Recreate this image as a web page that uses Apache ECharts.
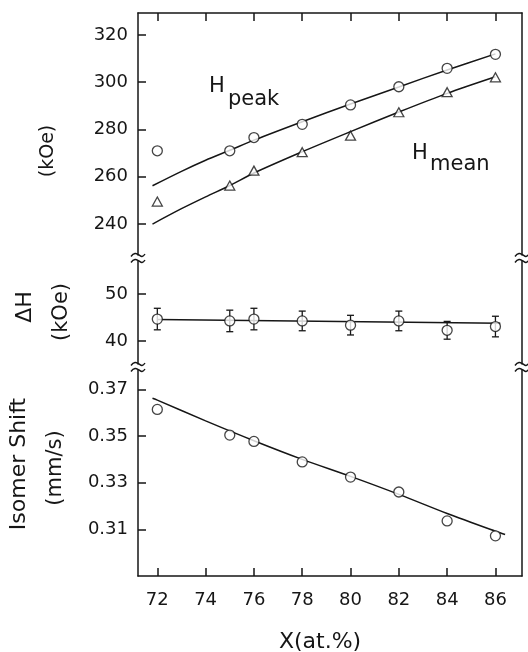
<!DOCTYPE html>
<html>
<head>
<meta charset="utf-8">
<script src="https://cdn.jsdelivr.net/npm/echarts@6/dist/echarts.min.js"></script>
<style>
html,body{margin:0;padding:0;background:#fff;}
#chart{width:528px;height:652px;}
</style>
</head>
<body>
<div id="chart"></div>
<script>
// ---- data ----
const xTicks = [72, 74, 76, 78, 80, 82, 84, 86];
const xData = [72, 75, 76, 78, 80, 82, 84, 86];
const hPeak = [271, 271, 276.6, 282.2, 290.4, 298.1, 305.9, 311.8];
const hMean = [249.5, 256.3, 262.6, 270.4, 277.4, 287.3, 295.8, 302.1];
const hFitX = [71.8, 73, 74, 75, 76, 78, 80, 82, 84, 86];
const hPeakFit = [256.2, 262.3, 267, 271.2, 275.5, 283.3, 290.8, 298.0, 305.2, 312.0];
const hMeanFit = [240, 246.5, 251.5, 256.3, 261.6, 270.6, 279.1, 287.4, 295.3, 302.3];
const dH = [44.7, 44.3, 44.7, 44.3, 43.4, 44.3, 42.3, 43.1];
const dHErr = [2.3, 2.3, 2.3, 2.1, 2.1, 2.1, 1.9, 2.2];
const dHFitX = [72, 86.2];
const dHFit = [44.6, 43.8];
const isoShift = [0.3614, 0.3504, 0.3477, 0.3389, 0.3324, 0.326, 0.3136, 0.3072];
const isFitX = [71.8, 72, 74, 76, 78, 80, 82, 84, 86, 86.4];
const isFit = [0.3662, 0.3654, 0.3565, 0.3480, 0.3400, 0.3327, 0.3250, 0.3168, 0.3092, 0.3078];
const hTicks = [240, 260, 280, 300, 320];
const dHTicks = [40, 50];
const isTicks = [0.31, 0.33, 0.35, 0.37];

// ---- layout ----
const FONT = 'DejaVu Sans';
const INK = '#161616';
const L = 138, R = 6;
const grids = [
  {left: L, right: R, top: 13, height: 242},
  {left: L, right: R, top: 261, height: 103},
  {left: L, right: R, top: 370, height: 206}
];
const X_MIN = 71.2, X_MAX = 87.1;
const axisLine = {show: true, lineStyle: {color: INK, width: 1.5}};
const tickIn = (vals) => ({show: true, inside: true, length: 8, customValues: vals, lineStyle: {color: INK, width: 1.5}});

function xAxis(gi, opts) {
  return Object.assign({
    type: 'value', gridIndex: gi, min: X_MIN, max: X_MAX,
    splitLine: {show: false}
  }, opts);
}
function yPair(gi, min, max, ticks, fmt) {
  return [
    {type: 'value', gridIndex: gi, min: min, max: max, position: 'left',
     axisLine: axisLine, axisTick: tickIn(ticks),
     axisLabel: {show: true, customValues: ticks, margin: 10, color: INK, fontSize: 18, fontFamily: FONT,
                 formatter: fmt || (v => String(v))},
     splitLine: {show: false}},
    {type: 'value', gridIndex: gi, min: min, max: max, position: 'right',
     axisLine: axisLine, axisTick: {show: false}, axisLabel: {show: false}, splitLine: {show: false}}
  ];
}

const yAxes = [].concat(
  yPair(0, 226.9, 329.3, hTicks),
  yPair(1, 35.1, 57.1, dHTicks),
  yPair(2, 0.29, 0.3783, isTicks, v => v.toFixed(2))
);

const markerStyle = {color: '#fff', borderColor: INK, borderWidth: 1.3};
const fitStyle = {color: INK, width: 1.5};
const zip = (a, b) => a.map((v, i) => [v, b[i]]);

// break marks
function tilde(cx, cy) {
  return {type: 'polyline', shape: {points: [[cx - 7, cy + 1.5], [cx - 3, cy - 1.5], [cx + 1, cy], [cx + 4, cy + 1.5], [cx + 7, cy - 1]], smooth: 0.5},
          style: {stroke: INK, lineWidth: 1.4, fill: null}};
}
const xLeft = L, xRight = 528 - R;
const breaks = [];
[[grids[0].top + grids[0].height, grids[1].top], [grids[1].top + grids[1].height, grids[2].top]].forEach(([a, b]) => {
  [xLeft, xRight].forEach(x => { breaks.push(tilde(x, a)); breaks.push(tilde(x, b)); });
});

function label(text, x, y, size, rot) {
  return {type: 'text', x: x, y: y, rotation: rot || 0,
          style: {text: text, fill: INK, fontSize: size, fontFamily: FONT, align: 'center', verticalAlign: 'middle'}};
}
function leftLabel(text, x, y, size) {
  return {type: 'text', x: x, y: y,
          style: {text: text, fill: INK, fontSize: size, fontFamily: FONT, align: 'left', verticalAlign: 'middle'}};
}

const option = {
  backgroundColor: '#fff',
  animation: false,
  textStyle: {fontFamily: FONT},
  grid: grids,
  xAxis: [
    xAxis(0, {position: 'top', axisLine: axisLine, axisTick: tickIn(xTicks), axisLabel: {show: false}}),
    xAxis(1, {show: false}),
    xAxis(2, {position: 'bottom', axisLine: axisLine, axisTick: tickIn(xTicks),
              axisLabel: {show: true, customValues: xTicks, margin: 15, color: INK, fontSize: 18, fontFamily: FONT}})
  ],
  yAxis: yAxes,
  series: [
    {type: 'line', xAxisIndex: 0, yAxisIndex: 0, data: zip(hFitX, hPeakFit), smooth: 0.3, showSymbol: false, lineStyle: fitStyle, z: 2},
    {type: 'line', xAxisIndex: 0, yAxisIndex: 0, data: zip(hFitX, hMeanFit), smooth: 0.3, showSymbol: false, lineStyle: fitStyle, z: 2},
    {type: 'scatter', xAxisIndex: 0, yAxisIndex: 0, data: zip(xData, hPeak), symbol: 'circle', symbolSize: 10, itemStyle: markerStyle, z: 3},
    {type: 'scatter', xAxisIndex: 0, yAxisIndex: 0, data: zip(xData, hMean), symbol: 'triangle', symbolSize: [10, 9], itemStyle: markerStyle, z: 3},

    {type: 'line', xAxisIndex: 1, yAxisIndex: 2, data: zip(dHFitX, dHFit), showSymbol: false, lineStyle: fitStyle, z: 2},
    {type: 'custom', xAxisIndex: 1, yAxisIndex: 2, z: 2,
     data: xData.map((x, i) => [x, dH[i], dHErr[i]]),
     encode: {x: 0, y: 1},
     renderItem: function (params, api) {
       const x = api.value(0), y = api.value(1), e = api.value(2);
       const t = api.coord([x, y + e]), b = api.coord([x, y - e]);
       const st = {stroke: INK, lineWidth: 1.3};
       return {type: 'group', children: [
         {type: 'line', shape: {x1: t[0], y1: t[1], x2: b[0], y2: b[1]}, style: st},
         {type: 'line', shape: {x1: t[0] - 3.5, y1: t[1], x2: t[0] + 3.5, y2: t[1]}, style: st},
         {type: 'line', shape: {x1: b[0] - 3.5, y1: b[1], x2: b[0] + 3.5, y2: b[1]}, style: st}
       ]};
     }},
    {type: 'scatter', xAxisIndex: 1, yAxisIndex: 2, data: zip(xData, dH), symbol: 'circle', symbolSize: 10, itemStyle: markerStyle, z: 3},

    {type: 'line', xAxisIndex: 2, yAxisIndex: 4, data: zip(isFitX, isFit), smooth: 0.3, showSymbol: false, lineStyle: fitStyle, z: 2},
    {type: 'scatter', xAxisIndex: 2, yAxisIndex: 4, data: zip(xData, isoShift), symbol: 'circle', symbolSize: 10, itemStyle: markerStyle, z: 3}
  ],
  graphic: {elements: breaks.concat([
    leftLabel('H', 209, 87, 21),
    leftLabel('peak', 228, 99.5, 21),
    leftLabel('H', 412, 153.5, 21),
    leftLabel('mean', 430, 164.5, 21),
    label('(kOe)', 48, 151, 19, Math.PI / 2),
    label('ΔH', 25, 307, 22, Math.PI / 2),
    label('(kOe)', 62, 312, 21, Math.PI / 2),
    label('Isomer Shift', 19, 464, 22, Math.PI / 2),
    label('(mm/s)', 56, 468, 21, Math.PI / 2),
    label('X(at.%)', 320, 642, 22, 0)
  ])}
};

const chart = echarts.init(document.getElementById('chart'), null, {renderer: 'canvas'});
chart.setOption(option);
</script>
</body>
</html>
